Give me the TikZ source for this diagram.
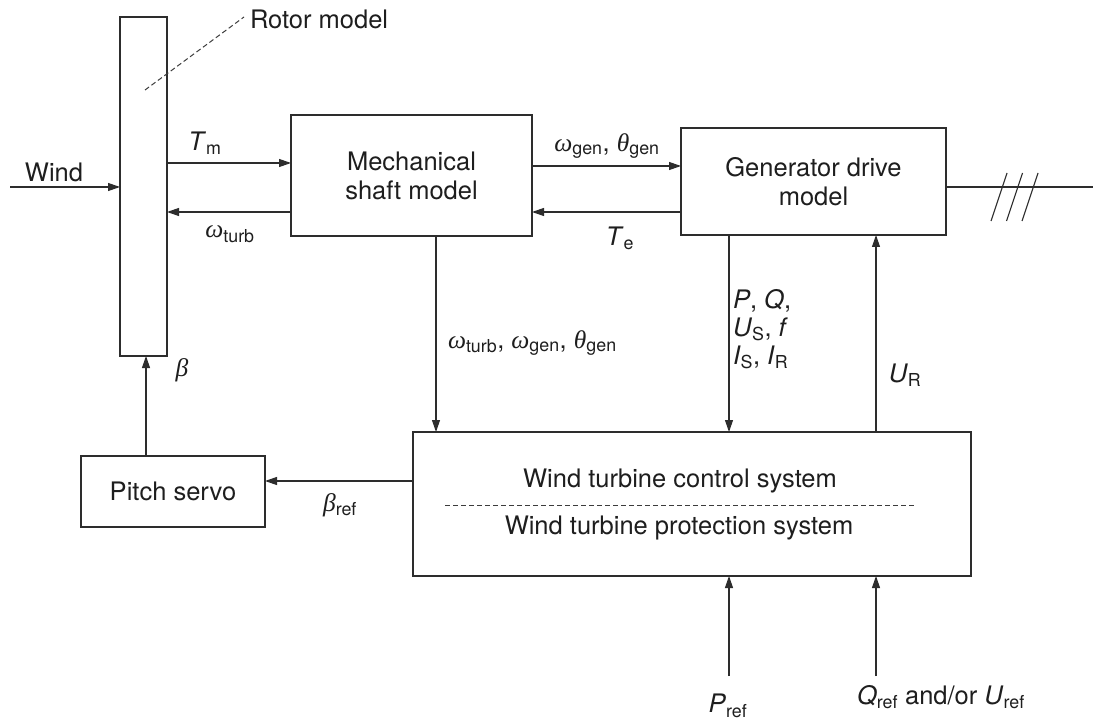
\documentclass[tikz,border=0pt]{standalone}
\usepackage{fontspec}
\setmainfont{TeX Gyre Heros}
\newfontfamily\greekfont{Liberation Serif}
\usepackage{tikz}
\usetikzlibrary{arrows.meta}
\newcommand{\gk}[1]{{\greekfont\itshape #1}}

\begin{document}
\begin{tikzpicture}[x=1pt,y=-1pt,
  blockbox/.style={draw={rgb,255:red,45;green,45;blue,45},line width=1.1pt,inner sep=0pt,outer sep=0pt,align=center,text={rgb,255:red,30;green,30;blue,30},font=\fontsize{25.5}{29}\selectfont},
  lbl/.style={inner sep=0pt,outer sep=0pt,text={rgb,255:red,30;green,30;blue,30},font=\fontsize{25.5}{28}\selectfont},
  wire/.style={draw={rgb,255:red,45;green,45;blue,45},line width=1.1pt},
  sig/.style={wire,-{Triangle[length=12pt,width=8pt]}},
  dashline/.style={draw={rgb,255:red,60;green,60;blue,60},line width=1pt,dash pattern=on 5pt off 3pt}]
\path[use as bounding box] (0,0) rectangle (1093,722);
\path[fill=white,draw=none] (0,0) rectangle (1093,722);
\node[blockbox,minimum width=47pt,minimum height=339pt] (rotor) at (143.5,186.5) {};
\node[blockbox,minimum width=241pt,minimum height=121pt] (shaft) at (411.5,175.5) {Mechanical\\shaft model};
\node[blockbox,minimum width=265pt,minimum height=107pt] (gen) at (813.5,181.5) {Generator drive\\model};
\node[blockbox,minimum width=558pt,minimum height=144pt] (ctrl) at (692,504) {};
\node[blockbox,minimum width=184pt,minimum height=71pt] (pitch) at (173,491.5) {Pitch servo};
\node[lbl] (ctrltxt) at (680,481) {Wind turbine control system};
\node[lbl] (prottxt) at (679,528) {Wind turbine protection system};
\draw[dashline] (445,505) -- (915,505);
\node[lbl,anchor=west] (rotorlbl) at (250,19) {Rotor model};
\coordinate (rotorpt) at (145,90);
\draw[dashline] (rotorpt) -- ([xshift=-6pt,yshift=2pt]rotorlbl.west);
\coordinate (wind) at (10,187);
\coordinate (grid) at (1093,187);
\coordinate (pref) at (729,676);
\coordinate (qref) at (876,676);
\draw[sig] (wind) -- (wind -| rotor.west);
\draw[sig] ([yshift=12.5pt]shaft.west -| rotor.east) -- ([yshift=12.5pt]shaft.west);
\draw[sig] ([yshift=-36.5pt]shaft.west) -- ([yshift=-36.5pt]shaft.west -| rotor.east);
\draw[sig] ([yshift=15.5pt]gen.west -| shaft.east) -- ([yshift=15.5pt]gen.west);
\draw[sig] ([yshift=-30.5pt]gen.west) -- ([yshift=-30.5pt]gen.west -| shaft.east);
\draw[sig] ([xshift=24.5pt]shaft.south) -- ([xshift=24.5pt]shaft.south |- ctrl.north);
\draw[sig] ([xshift=-84.5pt]gen.south) -- ([xshift=-84.5pt]gen.south |- ctrl.north);
\draw[sig] ([xshift=62.5pt]gen.south |- ctrl.north) -- ([xshift=62.5pt]gen.south);
\draw[sig] ([yshift=10.5pt]pitch.east -| ctrl.west) -- ([yshift=10.5pt]pitch.east);
\draw[sig] ([xshift=-27pt]pitch.north) -- ([xshift=-27pt]pitch.north |- rotor.south);
\draw[sig] (pref) -- (pref |- ctrl.south);
\draw[sig] (qref) -- (qref |- ctrl.south);
\draw[wire] ([yshift=-5.5pt]gen.east) -- ([yshift=-5.5pt]gen.east -| grid);
\foreach \d in {0,15.5,31} \draw[wire] (991+\d,221) -- (1007+\d,173);
\node[lbl] (windlbl) at (54,172) {Wind};
\node[lbl] (tmlbl) at (205,143) {\textit{T}\textsubscript{m}};
\node[lbl] (wturblbl) at (230,234) {\gk{ω}\textsubscript{turb}};
\node[lbl] (wgenlbl) at (607,146) {\gk{ω}\textsubscript{gen}, \gk{θ}\textsubscript{gen}};
\node[lbl] (telbl) at (620,238) {\textit{T}\textsubscript{e}};
\node[lbl,anchor=west] (shaftout) at (448,343) {\gk{ω}\textsubscript{turb}, \gk{ω}\textsubscript{gen}, \gk{θ}\textsubscript{gen}};
\node[lbl,anchor=north west,align=left] (meas) at (733,289) {\textit{P}, \textit{Q},\\\textit{U}\textsubscript{S}, \textit{f}\\\textit{I}\textsubscript{S}, \textit{I}\textsubscript{R}};
\node[lbl] (urlbl) at (905,375) {\textit{U}\textsubscript{R}};
\node[lbl] (betalbl) at (182,370) {\gk{β}};
\node[lbl] (breflbl) at (340,505) {\gk{β}\textsubscript{ref}};
\node[lbl] (preflbl) at (728,706) {\textit{P}\textsubscript{ref}};
\node[lbl,anchor=west] (qreflbl) at (857,697) {\textit{Q}\textsubscript{ref} and/or \textit{U}\textsubscript{ref}};
\end{tikzpicture}
\end{document}
